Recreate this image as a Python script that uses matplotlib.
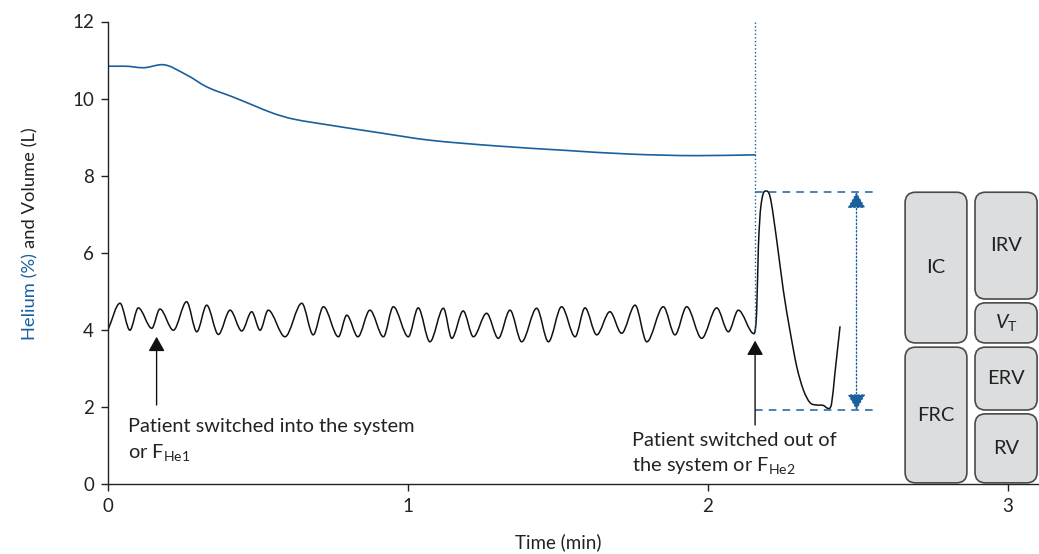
import numpy as np
import matplotlib
matplotlib.use('Agg')
import matplotlib.pyplot as plt
from matplotlib.path import Path
from matplotlib.patches import PathPatch, FancyBboxPatch

plt.rcParams['font.family'] = ['Lato', 'DejaVu Sans']
plt.rcParams['mathtext.fontset'] = 'custom'
plt.rcParams['mathtext.rm'] = 'Lato'
plt.rcParams['mathtext.it'] = 'Lato:italic'

BLUE = '#1a5f9e'
DARK = '#222222'

# helium concentration trace (time in min, %)
he_t = [0.0, 0.057, 0.117, 0.18, 0.263, 0.33, 0.417, 0.483, 0.55, 0.617,
        0.74, 0.907, 1.073, 1.297, 1.517, 1.74, 1.963, 2.157]
he_v = [10.84, 10.84, 10.80, 10.88, 10.61, 10.30, 10.04, 9.83, 9.62, 9.47,
        9.31, 9.11, 8.92, 8.77, 8.66, 8.56, 8.52, 8.54]

# spirometer volume trace (time in min, L) - breath peaks / troughs
vol_t = [0.0, 0.040, 0.073, 0.101, 0.146, 0.173, 0.218, 0.262, 0.296, 0.329,
         0.368, 0.407, 0.446, 0.479, 0.507, 0.534, 0.590, 0.646, 0.684, 0.718,
         0.768, 0.796, 0.833, 0.873, 0.918, 0.951, 1.001, 1.034, 1.073, 1.118,
         1.146, 1.184, 1.218, 1.262, 1.301, 1.340, 1.379, 1.429, 1.468, 1.512,
         1.557, 1.590, 1.629, 1.673, 1.712, 1.757, 1.796, 1.851, 1.890, 1.929,
         1.979, 2.029, 2.068, 2.101, 2.153,
         2.162, 2.168, 2.176, 2.190, 2.207, 2.229, 2.251, 2.273, 2.296, 2.318,
         2.340, 2.362, 2.384, 2.401, 2.412, 2.423, 2.440]
vol_v = [4.00, 4.69, 3.99, 4.57, 4.04, 4.54, 3.99, 4.73, 3.95, 4.64,
         3.88, 4.51, 3.97, 4.47, 3.99, 4.51, 3.82, 4.69, 3.87, 4.60,
         3.82, 4.38, 3.82, 4.51, 3.82, 4.60, 3.82, 4.57, 3.69, 4.56,
         3.78, 4.49, 3.82, 4.43, 3.78, 4.51, 3.69, 4.56, 3.69, 4.60,
         3.82, 4.57, 3.87, 4.47, 3.91, 4.64, 3.69, 4.60, 3.87, 4.60,
         3.78, 4.57, 3.95, 4.51, 3.90,
         4.43, 6.16, 7.19, 7.60, 7.45, 6.33, 5.03, 3.99, 3.04, 2.44,
         2.11, 2.05, 2.04, 1.96, 2.09, 2.87, 4.08]

switch_in_t = 0.162
switch_out_t = 2.157
vc_top = 7.57
vc_bottom = 1.92

# lung volume blocks
box_labels = ['IC', 'FRC', 'IRV', r'$V_\mathrm{T}$', 'ERV', 'RV']
box_col = [0, 0, 1, 1, 1, 1]
box_lo = [3.66, 0.03, 4.80, 3.66, 1.92, 0.03]
box_hi = [7.57, 3.55, 7.57, 4.70, 3.55, 1.82]
col_x = [(2.657, 2.863), (2.890, 3.097)]


def smooth_line(xs, ys, **kw):
    xs = np.asarray(xs, float)
    ys = np.asarray(ys, float)
    n = len(xs)
    d = np.diff(ys) / np.diff(xs)
    m = np.zeros(n)
    m[0] = d[0]
    m[-1] = d[-1]
    for i in range(1, n - 1):
        if d[i - 1] * d[i] > 0:
            m[i] = (ys[i + 1] - ys[i - 1]) / (xs[i + 1] - xs[i - 1])
    verts = [(xs[0], ys[0])]
    codes = [Path.MOVETO]
    for i in range(n - 1):
        h = (xs[i + 1] - xs[i]) / 3
        verts += [(xs[i] + h, ys[i] + m[i] * h),
                  (xs[i + 1] - h, ys[i + 1] - m[i + 1] * h),
                  (xs[i + 1], ys[i + 1])]
        codes += [Path.CURVE4] * 3
    return PathPatch(Path(verts, codes), fill=False, **kw)


fig = plt.figure(figsize=(10.39, 5.54), dpi=100)
ax = fig.add_axes([108 / 1039, 70 / 554, 930 / 1039, 462.5 / 554])
ax.set_xlim(0, 3.1)
ax.set_ylim(0, 12)

ax.add_patch(smooth_line(he_t, he_v, edgecolor=BLUE, lw=1.2, capstyle='round'))
ax.add_patch(smooth_line(vol_t, vol_v, edgecolor='#111111', lw=1.1, capstyle='round'))

# marker lines
ax.plot([switch_out_t, switch_out_t], [12, 3.95], ls=':', color=BLUE, lw=1.0)
ax.plot([switch_out_t, 2.563], [vc_top, vc_top], ls=(0, (5, 4)), color=BLUE, lw=1.1)
ax.plot([switch_out_t, 2.563], [vc_bottom, vc_bottom], ls=(0, (5, 4)), color=BLUE, lw=1.1)
ax.annotate('', xy=(2.495, vc_top), xytext=(2.495, vc_bottom),
            arrowprops=dict(arrowstyle='<|-|>,head_length=0.7,head_width=0.4',
                            color=BLUE, ls=':', lw=1.0, mutation_scale=14,
                            shrinkA=0, shrinkB=0))

ax.annotate('', xy=(switch_in_t, 3.82), xytext=(switch_in_t, 2.05),
            arrowprops=dict(arrowstyle='-|>,head_length=0.8,head_width=0.45',
                            color='#111111', lw=1.0, mutation_scale=11,
                            shrinkA=0, shrinkB=0))
ax.annotate('', xy=(switch_out_t, 3.72), xytext=(switch_out_t, 1.53),
            arrowprops=dict(arrowstyle='-|>,head_length=0.8,head_width=0.45',
                            color='#111111', lw=1.0, mutation_scale=11,
                            shrinkA=0, shrinkB=0))

ax.text(0.065, 1.70, 'Patient switched into the system\nor F$_\\mathrm{He1}$',
        fontsize=14.4, color=DARK, va='top', ha='left', linespacing=1.4)
ax.text(1.747, 1.36, 'Patient switched out of\nthe system or F$_\\mathrm{He2}$',
        fontsize=14.4, color=DARK, va='top', ha='left', linespacing=1.4)

for lab, c, lo, hi in zip(box_labels, box_col, box_lo, box_hi):
    x0, x1 = col_x[c]
    ax.add_patch(FancyBboxPatch((x0, lo), x1 - x0, hi - lo,
                                boxstyle='round,pad=0,rounding_size=0.035',
                                mutation_aspect=300 / 38.55,
                                facecolor='#dcdddf', edgecolor='#4a4a4a',
                                lw=1.2, clip_on=False))
    ax.text((x0 + x1) / 2, (lo + hi) / 2, lab, fontsize=14.4, color=DARK,
            ha='center', va='center')

for s in ['top', 'right']:
    ax.spines[s].set_visible(False)
for s in ['left', 'bottom']:
    ax.spines[s].set_color(DARK)
    ax.spines[s].set_linewidth(1.0)
ax.set_xticks([0, 1, 2, 3])
ax.set_yticks(np.arange(0, 13, 2))
ax.tick_params(length=5, width=1.0, color=DARK, labelcolor=DARK,
               labelsize=13.5, pad=5)

ax.set_xlabel('Time (min)', fontsize=13.5, color=DARK, labelpad=13)
ax.xaxis.label.set_x(1.5 / 3.1)

# two coloured y label
t1 = fig.text(30 / 1039, (554 - 340) / 554, 'Helium (%)', rotation=90,
              color=BLUE, fontsize=13.2, ha='center', va='bottom')
fig.canvas.draw()
bb = t1.get_window_extent()
fig.text(30 / 1039, (bb.y1 + 5) / 554, 'and Volume (L)', rotation=90,
         color=DARK, fontsize=13.2, ha='center', va='bottom')

fig.savefig('out.png', dpi=100)
